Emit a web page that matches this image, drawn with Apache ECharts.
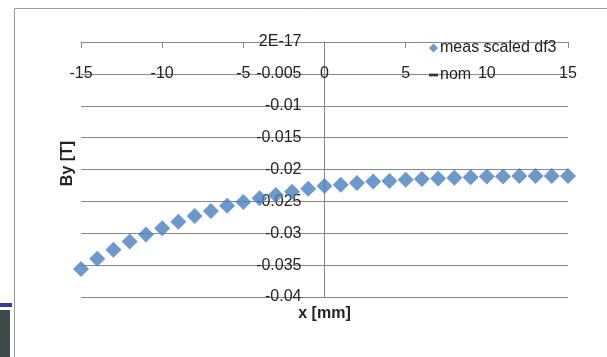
<!DOCTYPE html>
<html><head><meta charset="utf-8">
<script src="https://cdn.jsdelivr.net/npm/echarts@6/dist/echarts.min.js"></script>
<style>html,body{margin:0;padding:0;background:#fff}#c{width:607px;height:357px}</style>
</head><body><div id="c"></div>
<script>
const xValues = [-15,-14,-13,-12,-11,-10,-9,-8,-7,-6,-5,-4,-3,-2,-1,0,1,2,3,4,5,6,7,8,9,10,11,12,13,14,15];
const byValues = [-0.0356,-0.0340,-0.0326,-0.0313,-0.0302,-0.0292,-0.0282,-0.0273,-0.0265,-0.0257,-0.0251,-0.0245,-0.0240,-0.0235,-0.0230,-0.0226,-0.0224,-0.0221,-0.0219,-0.0218,-0.0216,-0.0215,-0.0214,-0.0213,-0.0212,-0.0211,-0.0211,-0.0210,-0.0210,-0.0210,-0.0210];
const yTickValues = [0,-0.005,-0.01,-0.015,-0.02,-0.025,-0.03,-0.035,-0.04];
const yTickLabels = ['2E-17','-0.005','-0.01','-0.015','-0.02','-0.025','-0.03','-0.035','-0.04'];
const xTickLabels = ['-15','-10','-5','0','5','10','15'];
const seriesNames = ['meas scaled df3','nom'];

const chart = echarts.init(document.getElementById('c'));
const font = 'Liberation Sans, Arial, sans-serif';
chart.setOption({
  animation:false,
  grid:{left:81,right:39,top:42,bottom:60,containLabel:false},
  legend:{
    left:424, top:35, orient:'vertical', itemGap:11, itemWidth:9, itemHeight:9,
    symbolKeepAspect:true,
    textStyle:{fontFamily:font,fontSize:16,color:'#222',padding:[0,0,0,-3]},
    data:[{name:seriesNames[0],icon:'diamond'},{name:seriesNames[1],icon:'path://M0,0h10v3h-10z'}]
  },
  xAxis:{type:'value',min:-15,max:15,interval:5,position:'top',
    axisLine:{onZero:false,lineStyle:{color:'#888',width:1}},
    axisTick:{show:true,length:6,inside:true,lineStyle:{color:'#888'}},
    axisLabel:{inside:true,margin:24,fontFamily:font,fontSize:16,color:'#222',
      formatter:v=>{const i=Math.round((v+15)/5);return xTickLabels[i]!==undefined?xTickLabels[i]:v;}},
    splitLine:{show:false},
    name:'x [mm]',nameLocation:'middle',nameGap:-280,
    nameTextStyle:{fontFamily:font,fontSize:16,fontWeight:'bold',color:'#222'}
  },
  yAxis:{type:'value',min:-0.04,max:0,interval:0.005,position:'left',offset:-243.5,
    axisLine:{onZero:false,lineStyle:{color:'#888',width:1}},
    axisTick:{show:false},
    axisLabel:{margin:23,fontFamily:font,fontSize:16,color:'#222',
      formatter:v=>{let best=0;for(let i=0;i<yTickValues.length;i++){if(Math.abs(yTickValues[i]-v)<Math.abs(yTickValues[best]-v))best=i;}return yTickLabels[best];}},
    splitLine:{show:true,lineStyle:{color:'#888',width:1}},
    name:'By [T]',nameLocation:'middle',nameGap:249,nameRotate:90,
    nameTextStyle:{fontFamily:font,fontSize:16,fontWeight:'bold',color:'#222',padding:[0,0,0,12]}
  },
  series:[
    {name:seriesNames[0],type:'scatter',symbol:'diamond',symbolSize:16,
     itemStyle:{color:'#4a7ebb'},data:xValues.map((x,i)=>[x,byValues[i]])},
    {name:seriesNames[1],type:'line',data:[],symbol:'none',lineStyle:{color:'#333',width:2},itemStyle:{color:'#333'}}
  ],
  graphic:[
    {type:'line',shape:{x1:14.5,y1:8.5,x2:607,y2:8.5},style:{stroke:'#999',lineWidth:1}},
    {type:'line',shape:{x1:14.5,y1:8.5,x2:14.5,y2:357},style:{stroke:'#999',lineWidth:1}},
    {type:'rect',shape:{x:0,y:303,width:12,height:4},style:{fill:'#2a3f8f'}},
    {type:'rect',shape:{x:0,y:310,width:10,height:47},style:{fill:'#3a4a48'}}
  ]
});
</script></body></html>
